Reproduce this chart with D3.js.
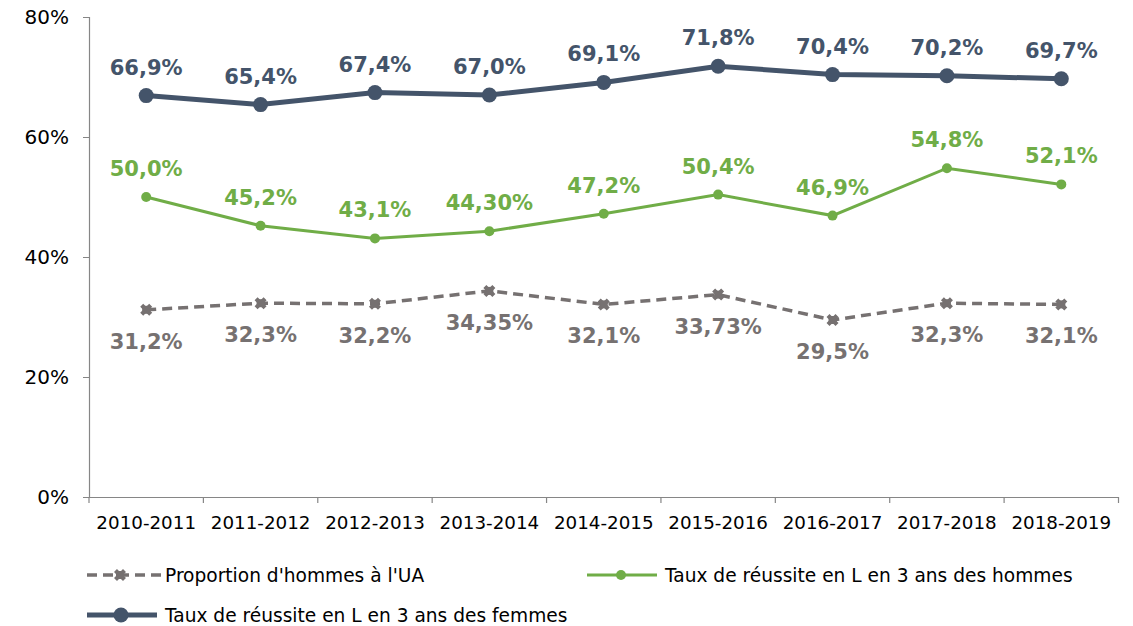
<!DOCTYPE html>
<html><head><meta charset="utf-8">
<script src="https://cdn.jsdelivr.net/npm/d3@7"></script>
<style>body{margin:0;background:#fff;} svg{display:block;font-family:"DejaVu Sans",Verdana,sans-serif;}</style>
</head><body>
<svg id="c" width="1133" height="626"></svg>
<script>
const categories = ["2010-2011","2011-2012","2012-2013","2013-2014","2014-2015","2015-2016","2016-2017","2017-2018","2018-2019"];
const proportionHommes = [31.2, 32.3, 32.2, 34.35, 32.1, 33.73, 29.5, 32.3, 32.1];
const proportionLabels = ["31,2%","32,3%","32,2%","34,35%","32,1%","33,73%","29,5%","32,3%","32,1%"];
const reussiteHommes = [50.0, 45.2, 43.1, 44.3, 47.2, 50.4, 46.9, 54.8, 52.1];
const reussiteHommesLabels = ["50,0%","45,2%","43,1%","44,30%","47,2%","50,4%","46,9%","54,8%","52,1%"];
const reussiteFemmes = [66.9, 65.4, 67.4, 67.0, 69.1, 71.8, 70.4, 70.2, 69.7];
const reussiteFemmesLabels = ["66,9%","65,4%","67,4%","67,0%","69,1%","71,8%","70,4%","70,2%","69,7%"];
const yTicks = [0, 20, 40, 60, 80];
const legendNames = ["Proportion d'hommes à l'UA","Taux de réussite en L en 3 ans des hommes","Taux de réussite en L en 3 ans des femmes"];

const svg = d3.select("#c");
const x = d3.scaleBand().domain(categories).range([89, 1118.5]);
const y = d3.scaleLinear().domain([0, 80]).range([497, 17]);
const cx = d => x(d) + x.bandwidth()/2;
const axisCol = "#868686";

// Y axis
const ya = svg.append("g").attr("transform","translate(89,0)")
  .call(d3.axisLeft(y).tickValues(yTicks).tickFormat(d => d + "%").tickSize(6).tickPadding(14));
ya.select(".domain").attr("stroke", axisCol).attr("stroke-width",1.2);
ya.selectAll(".tick line").attr("stroke", axisCol);
ya.selectAll(".tick text").attr("font-size", 20).attr("fill","#000").attr("font-family","DejaVu Sans, sans-serif");

// X axis
const xa = svg.append("g").attr("transform","translate(0,497)")
  .call(d3.axisBottom(x).tickSize(0).tickPadding(19));
xa.select(".domain").attr("stroke", axisCol).attr("stroke-width",1.2);
xa.selectAll(".tick text").attr("font-size", 18.3).attr("fill","#000").attr("font-family","DejaVu Sans, sans-serif");
// boundary ticks
const bounds = categories.map(c => x(c)).concat([x.range()[1]]);
svg.append("g").selectAll("line").data(bounds).join("line")
  .attr("x1", d => d).attr("x2", d => d).attr("y1", 497).attr("y2", 503)
  .attr("stroke", axisCol).attr("stroke-width",1.2);

const line = d3.line().x((d,i) => cx(categories[i])).y(d => y(d));

const gray = "#767171", green = "#70AD47", navy = "#44546A";

// gray dashed series
svg.append("path").datum(proportionHommes).attr("d", line)
  .attr("fill","none").attr("stroke", gray).attr("stroke-width",3.5).attr("stroke-dasharray","10,6");
function grayMarker(g, px, py) {
  g.append("path").attr("transform",`translate(${px},${py})`)
    .attr("d", d3.symbol().type(d3.symbolSquare).size(64)()).attr("fill", gray);
  g.append("path").attr("transform",`translate(${px},${py}) rotate(45)`)
    .attr("d", d3.symbol().type(d3.symbolCross).size(90)()).attr("fill", gray);
}
const gm = svg.append("g");
proportionHommes.forEach((v,i) => grayMarker(gm, cx(categories[i]), y(v)));

// green series
svg.append("path").datum(reussiteHommes).attr("d", line)
  .attr("fill","none").attr("stroke", green).attr("stroke-width",3);
svg.append("g").selectAll("circle").data(reussiteHommes).join("circle")
  .attr("cx",(d,i) => cx(categories[i])).attr("cy", d => y(d)).attr("r",5).attr("fill",green);

// navy series
svg.append("path").datum(reussiteFemmes).attr("d", line)
  .attr("fill","none").attr("stroke", navy).attr("stroke-width",5);
svg.append("g").selectAll("circle").data(reussiteFemmes).join("circle")
  .attr("cx",(d,i) => cx(categories[i])).attr("cy", d => y(d)).attr("r",7.5).attr("fill",navy);

// labels
function labels(vals, texts, col, dy) {
  svg.append("g").selectAll("text").data(vals).join("text")
    .attr("x",(d,i) => cx(categories[i])).attr("y", d => y(d) + dy)
    .attr("text-anchor","middle").attr("font-size",21).attr("font-weight","bold")
    .attr("fill", col).text((d,i) => texts[i]);
}
labels(reussiteFemmes, reussiteFemmesLabels, navy, -21);
labels(reussiteHommes, reussiteHommesLabels, green, -21);
labels(proportionHommes, proportionLabels, gray, 39);

// legend
const lg = svg.append("g");
function legendItem(x0, yy, type, name) {
  const g = lg.append("g");
  if (type === 0) {
    g.append("line").attr("x1",x0).attr("x2",x0+75).attr("y1",yy).attr("y2",yy)
      .attr("stroke",gray).attr("stroke-width",3.5).attr("stroke-dasharray","10,6");
    grayMarker(g, x0+33, yy);
  } else if (type === 1) {
    g.append("line").attr("x1",x0).attr("x2",x0+70).attr("y1",yy).attr("y2",yy)
      .attr("stroke",green).attr("stroke-width",3);
    g.append("circle").attr("cx",x0+34).attr("cy",yy).attr("r",5).attr("fill",green);
  } else {
    g.append("line").attr("x1",x0).attr("x2",x0+70).attr("y1",yy).attr("y2",yy)
      .attr("stroke",navy).attr("stroke-width",5);
    g.append("circle").attr("cx",x0+34).attr("cy",yy).attr("r",7.5).attr("fill",navy);
  }
  g.append("text").attr("x", x0 + 78).attr("y", yy).attr("dy","0.35em")
    .attr("font-size",18.6).attr("fill","#000").text(name);
}
legendItem(87, 575, 0, legendNames[0]);
legendItem(587, 575, 1, legendNames[1]);
legendItem(87, 615, 2, legendNames[2]);
</script>
</body></html>
